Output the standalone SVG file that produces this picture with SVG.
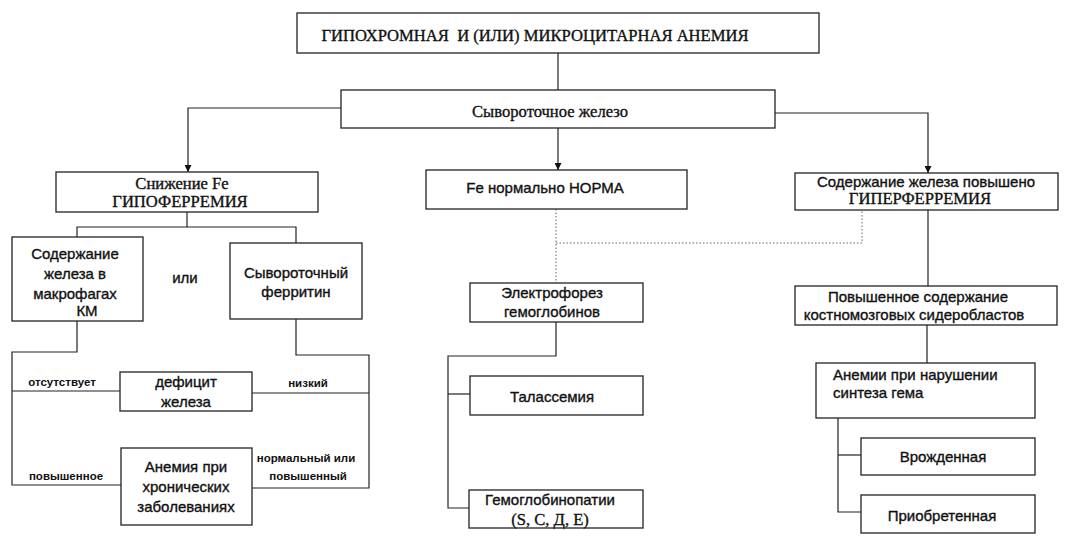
<svg xmlns="http://www.w3.org/2000/svg" width="1073" height="547" viewBox="0 0 1073 547">
<defs>
<marker id="arr" viewBox="0 0 8 8" refX="8" refY="4" markerWidth="7" markerHeight="7" markerUnits="userSpaceOnUse" orient="auto">
<path d="M0,0 L8,4 L0,8 Z" fill="#111"/>
</marker>
<style>
.box{fill:#fff;stroke:#222;stroke-width:1.3}
.ln{fill:none;stroke:#222;stroke-width:1.2}
.dot{fill:none;stroke:#666;stroke-width:1;stroke-dasharray:1.5 2}
.sr{font-family:"Liberation Serif","Times New Roman",serif;font-size:16.6px;fill:#111;stroke:#111;stroke-width:0.35}
.ss{font-family:"Liberation Sans",Arial,sans-serif;font-size:15px;fill:#111;stroke:#111;stroke-width:0.35}
.lb{font-family:"Liberation Sans",Arial,sans-serif;font-size:11.5px;font-weight:bold;fill:#111}
.m{text-anchor:middle}
</style>
</defs>
<rect width="1073" height="547" fill="#fff"/>

<g id="connectors">
<line class="ln" x1="558" y1="53" x2="558" y2="90"/>
<polyline class="ln" points="341,108 188,108 188,172" marker-end="url(#arr)"/>
<line class="ln" x1="558" y1="128" x2="558" y2="170" marker-end="url(#arr)"/>
<polyline class="ln" points="775,113 928,113 928,173" marker-end="url(#arr)"/>
<polyline class="ln" points="187,212 187,227"/>
<polyline class="ln" points="77,237 77,227 296,227 296,243"/>
<polyline class="ln" points="77,321 77,352 12,352 12,485 121,485"/>
<line class="ln" x1="12" y1="391" x2="120" y2="391"/>
<polyline class="ln" points="296,319 296,355 369,355 369,488 252,488"/>
<line class="ln" x1="252" y1="393" x2="369" y2="393"/>
<line class="dot" x1="556" y1="209" x2="556" y2="283"/>
<polyline class="dot" points="556,243 862,243 862,210"/>
<line class="ln" x1="928" y1="210" x2="928" y2="286"/>
<polyline class="ln" points="556,322 556,356 448,356 448,508 469,508"/>
<line class="ln" x1="448" y1="394" x2="470" y2="394"/>
<line class="ln" x1="927" y1="325" x2="927" y2="363"/>
<polyline class="ln" points="838,418 838,512 861,512"/>
<line class="ln" x1="838" y1="455" x2="861" y2="455"/>
</g>

<g id="n-title">
<rect class="box" x="297" y="13" width="522" height="40"/>
<text class="sr m" x="535" y="41" xml:space="preserve">ГИПОХРОМНАЯ  И (ИЛИ) МИКРОЦИТАРНАЯ АНЕМИЯ</text>
</g>
<g id="n-serum">
<rect class="box" x="341" y="90" width="434" height="38"/>
<text class="sr m" x="550" y="117">Сывороточное железо</text>
</g>
<g id="n-hypo">
<rect class="box" x="56" y="172" width="262" height="40"/>
<text class="sr m" x="182" y="189">Снижение Fe</text>
<text class="sr m" x="180" y="207">ГИПОФЕРРЕМИЯ</text>
</g>
<g id="n-norm">
<rect class="box" x="426" y="170" width="261" height="39"/>
<text class="ss m" x="545" y="193">Fe нормально НОРМА</text>
</g>
<g id="n-hyper">
<rect class="box" x="795" y="173" width="263" height="37"/>
<text class="ss m" x="926" y="187">Содержание железа повышено</text>
<text class="sr m" x="920" y="204">ГИПЕРФЕРРЕМИЯ</text>
</g>
<g id="n-macro">
<rect class="box" x="12" y="237" width="131" height="84"/>
<text class="ss m" x="75" y="259">Содержание</text>
<text class="ss m" x="75" y="279">железа в</text>
<text class="ss m" x="75" y="299">макрофагах</text>
<text class="ss m" x="87" y="316">КМ</text>
</g>
<text class="ss m" x="185" y="283">или</text>
<g id="n-ferritin">
<rect class="box" x="230" y="243" width="132" height="76"/>
<text class="ss m" x="296" y="278">Сывороточный</text>
<text class="ss m" x="296" y="297">ферритин</text>
</g>
<g id="n-deficit">
<rect class="box" x="120" y="372" width="132" height="39"/>
<text class="ss m" x="186" y="387">дефицит</text>
<text class="ss m" x="186" y="407">железа</text>
</g>
<g id="n-chronic">
<rect class="box" x="121" y="448" width="131" height="77"/>
<text class="ss m" x="186" y="472">Анемия при</text>
<text class="ss m" x="186" y="492">хронических</text>
<text class="ss m" x="186" y="512">заболеваниях</text>
</g>
<g id="labels">
<text class="lb m" x="62" y="386">отсутствует</text>
<text class="lb m" x="308" y="387">низкий</text>
<text class="lb m" x="66" y="480">повышенное</text>
<text class="lb m" x="306" y="462">нормальный или</text>
<text class="lb m" x="308" y="480">повышенный</text>
</g>
<g id="n-electro">
<rect class="box" x="470" y="283" width="173" height="39"/>
<text class="ss m" x="552" y="298">Электрофорез</text>
<text class="ss m" x="552" y="317">гемоглобинов</text>
</g>
<g id="n-thal">
<rect class="box" x="470" y="376" width="173" height="39"/>
<text class="ss m" x="552" y="402">Талассемия</text>
</g>
<g id="n-hbpath">
<rect class="box" x="469" y="490" width="174" height="38"/>
<text class="ss m" x="550" y="505">Гемоглобинопатии</text>
<text class="sr m" x="550" y="525">(S, C, Д, E)</text>
</g>
<g id="n-sidero">
<rect class="box" x="795" y="286" width="262" height="39"/>
<text class="ss m" x="918" y="302">Повышенное содержание</text>
<text class="ss m" x="914" y="320">костномозговых сидеробластов</text>
</g>
<g id="n-heme">
<rect class="box" x="816" y="363" width="219" height="55"/>
<text class="ss" x="833" y="380">Анемии при нарушении</text>
<text class="ss" x="833" y="398">синтеза гема</text>
</g>
<g id="n-congen">
<rect class="box" x="861" y="438" width="174" height="37"/>
<text class="ss m" x="943" y="462">Врожденная</text>
</g>
<g id="n-acq">
<rect class="box" x="861" y="495" width="174" height="38"/>
<text class="ss m" x="942" y="521">Приобретенная</text>
</g>
</svg>
